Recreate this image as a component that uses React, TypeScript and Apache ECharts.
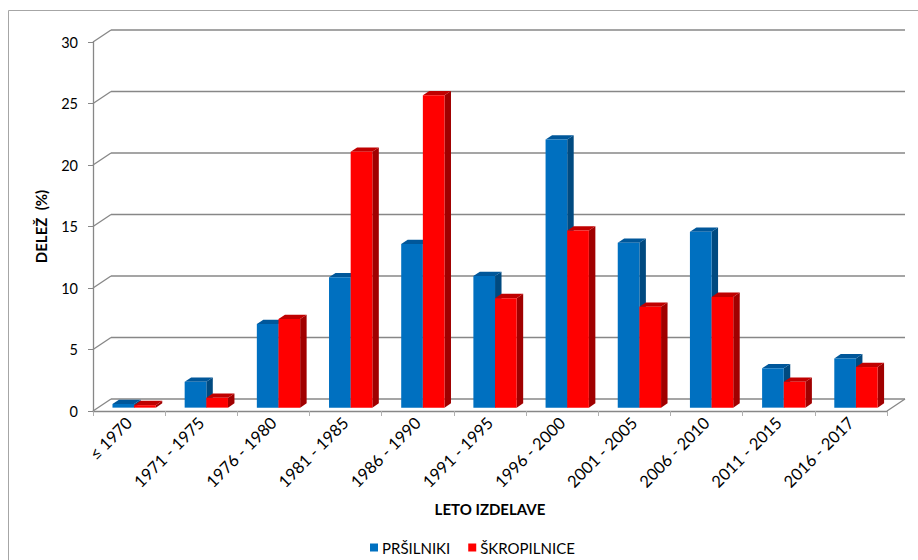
import React, { useEffect, useRef } from "react";
import * as echarts from "echarts";

// Year-of-manufacture classes and shares (%) per machine type
const categories = [
  "≤ 1970",
  "1971 - 1975",
  "1976 - 1980",
  "1981 - 1985",
  "1986 - 1990",
  "1991 - 1995",
  "1996 - 2000",
  "2001 - 2005",
  "2006 - 2010",
  "2011 - 2015",
  "2016 - 2017",
];
const prsilniki = [0.3, 2.1, 6.8, 10.6, 13.3, 10.7, 21.8, 13.4, 14.3, 3.2, 4.0];
const skropilnice = [0.2, 0.8, 7.2, 20.8, 25.4, 8.9, 14.4, 8.2, 9.0, 2.1, 3.3];
const yTicks = [0, 5, 10, 15, 20, 25, 30];

const seriesNames = ["PRŠILNIKI", "ŠKROPILNICE"];

// Faux 3D geometry: the back wall sits DX right and DY up from the front plane
const DX = 18;
const DY = -12;
const F0 = 0.28; // depth fraction of the bar front faces
const F1 = 0.64; // depth fraction of the bar back faces
const BAR_RATIO = 0.3; // width of one bar relative to the category band

const palettes = [
  { front: "#0070C0", top: "#00579A", side: "#004A80" },
  { front: "#FF0000", top: "#C00000", side: "#A00000" },
];

const GRID_COLOR = "#878787";
const FONT = "Lato, 'Liberation Sans', sans-serif";

function barRenderer(seriesIdx: number) {
  const pal = palettes[seriesIdx];
  return (params: any, api: any) => {
    const idx = api.value(0);
    const v = api.value(1);
    const base = api.coord([idx, 0]);
    const top = api.coord([idx, v]);
    const band = api.size([1, 0])[0];
    const w = band * BAR_RATIO;
    const ox = F0 * DX;
    const oy = F0 * DY;
    const x0 = base[0] - w + seriesIdx * w + ox;
    const x1 = x0 + w;
    const yb = base[1] + oy;
    const yt = top[1] + oy;
    const ddx = (F1 - F0) * DX;
    const ddy = (F1 - F0) * DY;
    return {
      type: "group",
      children: [
        {
          type: "polygon",
          shape: {
            points: [
              [x1, yt],
              [x1 + ddx, yt + ddy],
              [x1 + ddx, yb + ddy],
              [x1, yb],
            ],
          },
          style: { fill: pal.side },
        },
        {
          type: "polygon",
          shape: {
            points: [
              [x0, yt],
              [x1, yt],
              [x1 + ddx, yt + ddy],
              [x0 + ddx, yt + ddy],
            ],
          },
          style: { fill: pal.top },
        },
        {
          type: "rect",
          shape: { x: x0, y: yt, width: w, height: yb - yt },
          style: { fill: pal.front },
        },
      ],
    };
  };
}

// Side wall diagonals, back wall gridlines and the right floor edge
function wallRenderer(params: any, api: any) {
  const v = api.value(1);
  const cs = params.coordSys;
  const y = api.coord([0, v])[1];
  const xL = cs.x;
  const xR = cs.x + cs.width;
  const style = { stroke: GRID_COLOR, lineWidth: 1.3, fill: null };
  const children: any[] = [
    { type: "line", shape: { x1: xL, y1: y, x2: xL + DX, y2: y + DY }, style },
    { type: "line", shape: { x1: xL + DX, y1: y + DY, x2: xR + DX, y2: y + DY }, style },
  ];
  if (v === 0) {
    children.push({
      type: "line",
      shape: { x1: xR, y1: y, x2: xR + DX, y2: y + DY },
      style,
    });
  }
  return { type: "group", children };
}

export default function App() {
  const ref = useRef<HTMLDivElement>(null);

  useEffect(() => {
    if (!ref.current) return;
    const chart = echarts.init(ref.current, null, { renderer: "svg" });
    chart.setOption({
      animation: false,
      backgroundColor: "#fff",
      textStyle: { fontFamily: FONT },
      grid: { left: 93, right: 31, top: 42, bottom: 149 },
      legend: {
        data: seriesNames,
        left: 365,
        top: 535,
        icon: "rect",
        itemWidth: 8,
        itemHeight: 8,
        itemGap: 18,
        textStyle: { fontFamily: FONT, fontSize: 15, color: "#000", padding: [0, 0, 0, -1] },
      },
      xAxis: {
        type: "category",
        data: categories,
        name: "LETO IZDELAVE",
        nameLocation: "middle",
        nameGap: 90,
        nameTextStyle: { fontFamily: FONT, fontSize: 15, fontWeight: "bold", color: "#000" },
        axisLine: { show: true, lineStyle: { color: GRID_COLOR, width: 1.3 } },
        axisTick: { show: true, length: 5, lineStyle: { color: "#B0B0B0" } },
        axisLabel: {
          rotate: 45,
          margin: 9,
          fontSize: 16.5,
          color: "#000",
          fontFamily: FONT,
          interval: 0,
        },
        splitLine: { show: false },
      },
      yAxis: {
        type: "value",
        min: 0,
        max: 30,
        interval: 5,
        name: "DELEŽ  (%)",
        nameLocation: "middle",
        nameGap: 45,
        nameRotate: 90,
        nameTextStyle: { fontFamily: FONT, fontSize: 15, fontWeight: "bold", color: "#000" },
        axisLine: { show: true, lineStyle: { color: GRID_COLOR, width: 1.3 } },
        axisTick: { show: true, length: 5, lineStyle: { color: GRID_COLOR } },
        axisLabel: { fontSize: 14.5, color: "#000", margin: 15, fontFamily: FONT },
        splitLine: { show: false },
      },
      graphic: [
        {
          type: "line",
          shape: { x1: 8.5, y1: 10.5, x2: 8.5, y2: 560 },
          style: { stroke: "#A6A6A6", lineWidth: 1 },
        },
        {
          type: "line",
          shape: { x1: 8.5, y1: 10.5, x2: 918, y2: 10.5 },
          style: { stroke: "#A6A6A6", lineWidth: 1 },
        },
      ],
      series: [
        {
          type: "custom",
          name: "walls",
          silent: true,
          clip: false,
          z: 1,
          renderItem: wallRenderer,
          data: yTicks.map((v) => [0, v]),
          encode: { x: 0, y: 1 },
        },
        {
          type: "custom",
          name: seriesNames[0],
          clip: false,
          z: 2,
          itemStyle: { color: palettes[0].front },
          renderItem: barRenderer(0),
          data: prsilniki.map((v, i) => [i, v]),
          encode: { x: 0, y: 1 },
        },
        {
          type: "custom",
          name: seriesNames[1],
          clip: false,
          z: 2,
          itemStyle: { color: palettes[1].front },
          renderItem: barRenderer(1),
          data: skropilnice.map((v, i) => [i, v]),
          encode: { x: 0, y: 1 },
        },
      ],
    });
    return () => chart.dispose();
  }, []);

  return (
    <div
      ref={ref}
      style={{ position: "absolute", left: 0, top: 0, width: 918, height: 560 }}
    />
  );
}
